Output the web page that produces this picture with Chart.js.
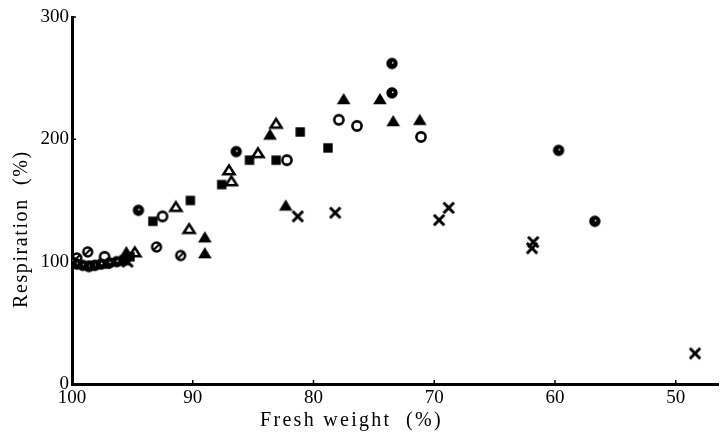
<!DOCTYPE html>
<html><head><meta charset="utf-8">
<script src="https://cdn.jsdelivr.net/npm/chart.js@4"></script>
<style>html,body{margin:0;padding:0;background:#fff}</style>
</head><body>
<canvas id="c" width="725" height="441" style="display:block;width:725px;height:441px"></canvas>
<script>
// ---- data ----
const xTicks = [100, 90, 80, 70, 60, 50];
const yTicks = [0, 100, 200, 300];
const xTitle = 'Fresh weight  (%)';
const yTitle = 'Respiration  (%)';

// filled circle with a small white dot
const dotCircleX = [100.0, 99.6, 99.1, 98.6, 98.1, 97.6, 96.9, 96.3, 94.5, 86.4, 73.5, 73.5, 59.7, 56.7];
const dotCircleY = [100, 98, 97, 96, 97, 98, 99, 100, 142, 190, 262, 238, 191, 133];
// circle with slash
const slashCircleX = [99.6, 98.7, 93.0, 91.0];
const slashCircleY = [103, 108, 112, 105];
// open circle
const openCircleX = [97.3, 92.5, 82.2, 77.9, 76.4, 71.1];
const openCircleY = [104, 137, 183, 216, 211, 202];
// filled triangle
const filledTriX = [96.0, 95.5, 89.0, 89.0, 83.6, 82.3, 77.5, 74.5, 73.4, 71.2];
const filledTriY = [101, 108, 120, 107, 204, 146, 233, 233, 215, 216];
// open triangle
const openTriX = [94.8, 91.4, 90.3, 87.0, 86.8, 84.6, 83.1];
const openTriY = [108, 145, 127, 175, 166, 189, 213];
// filled square
const squareX = [98.4, 97.2, 95.6, 95.2, 93.3, 90.2, 87.6, 85.3, 83.1, 81.1, 78.8];
const squareY = [97, 98, 101, 104, 133, 150, 163, 183, 183, 206, 193];
// cross
const crossX = [95.4, 81.3, 78.2, 69.6, 68.8, 61.8, 61.9, 48.4];
const crossY = [100, 137, 140, 134, 144, 116, 111, 25];

// ---- marker glyphs ----
function marker(kind) {
  const s = 16, c = document.createElement('canvas');
  c.width = s; c.height = s;
  const g = c.getContext('2d');
  g.translate(s / 2, s / 2);
  g.fillStyle = '#000'; g.strokeStyle = '#000';
  switch (kind) {
    case 'dot':
      g.beginPath(); g.arc(0, 0, 5.7, 0, 2 * Math.PI); g.fill();
      g.fillStyle = '#fff'; g.beginPath(); g.arc(0.7, -0.7, 0.9, 0, 2 * Math.PI); g.fill();
      break;
    case 'slash':
      g.lineWidth = 2.5; g.beginPath(); g.arc(0, 0, 4.4, 0, 2 * Math.PI); g.stroke();
      g.lineWidth = 2.2; g.beginPath(); g.moveTo(-3, 3); g.lineTo(3, -3); g.stroke();
      break;
    case 'open':
      g.lineWidth = 2.6; g.beginPath(); g.arc(0, 0, 4.6, 0, 2 * Math.PI); g.stroke();
      break;
    case 'tri':
      g.beginPath(); g.moveTo(0, -6); g.lineTo(6.8, 5.2); g.lineTo(-6.8, 5.2); g.closePath(); g.fill();
      break;
    case 'otri':
      g.lineWidth = 2.6; g.beginPath(); g.moveTo(0, -4.4); g.lineTo(5.5, 4.2); g.lineTo(-5.5, 4.2); g.closePath(); g.stroke();
      break;
    case 'sq':
      g.fillRect(-4.7, -4.7, 9.4, 9.4);
      break;
    case 'x':
      g.lineWidth = 3; g.lineCap = 'butt';
      g.beginPath(); g.moveTo(-5.2, -5.2); g.lineTo(5.2, 5.2); g.moveTo(5.2, -5.2); g.lineTo(-5.2, 5.2); g.stroke();
      break;
  }
  return c;
}

const series = [
  { label: 'dotted circle', xs: dotCircleX, ys: dotCircleY, kind: 'dot' },
  { label: 'slashed circle', xs: slashCircleX, ys: slashCircleY, kind: 'slash' },
  { label: 'open circle', xs: openCircleX, ys: openCircleY, kind: 'open' },
  { label: 'filled triangle', xs: filledTriX, ys: filledTriY, kind: 'tri' },
  { label: 'open triangle', xs: openTriX, ys: openTriY, kind: 'otri' },
  { label: 'filled square', xs: squareX, ys: squareY, kind: 'sq' },
  { label: 'cross', xs: crossX, ys: crossY, kind: 'x' }
];

const FONT = '"Liberation Serif", "Times New Roman", serif';

const axisExtras = {
  id: 'axisExtras',
  afterDraw(chart) {
    const ctx = chart.ctx, xs = chart.scales.x, ys = chart.scales.y, a = chart.chartArea;
    ctx.save();
    ctx.strokeStyle = '#000'; ctx.lineWidth = 1.5;
    ctx.beginPath();
    xTicks.forEach(v => { const p = xs.getPixelForValue(v); ctx.moveTo(p, a.bottom); ctx.lineTo(p, a.bottom - 4); });
    yTicks.forEach(v => { const p = ys.getPixelForValue(v); ctx.moveTo(a.left, p); ctx.lineTo(a.left + 4, p); });
    ctx.stroke();
    ctx.fillStyle = '#000';
    ctx.font = '20px ' + FONT;
    ctx.textAlign = 'left'; ctx.textBaseline = 'alphabetic';
    ctx.letterSpacing = '2.3px';
    ctx.fillText(xTitle, 260, 426);
    ctx.letterSpacing = '1.6px';
    ctx.translate(27, 308); ctx.rotate(-Math.PI / 2);
    ctx.fillText(yTitle, 0, 0);
    ctx.restore();
  }
};

new Chart(document.getElementById('c'), {
  type: 'scatter',
  data: {
    datasets: series.map(s => ({
      label: s.label,
      data: s.xs.map((x, i) => ({ x: x, y: s.ys[i] })),
      pointStyle: marker(s.kind),
      pointRadius: 6,
      pointHoverRadius: 6,
      showLine: false
    }))
  },
  options: {
    responsive: false,
    animation: false,
    layout: { padding: { top: 17, right: 4, left: 0, bottom: 0 } },
    plugins: { legend: { display: false }, tooltip: { enabled: false }, title: { display: false } },
    scales: {
      x: {
        type: 'linear', reverse: true, min: 46.5, max: 100,
        afterBuildTicks: s => { s.ticks = xTicks.map(v => ({ value: v })); },
        afterFit: s => { s.height = 57; },
        grid: { display: false, drawTicks: false },
        border: { display: true, color: '#000', width: 3 },
        ticks: { color: '#000', font: { family: FONT, size: 19 }, padding: 3, maxRotation: 0, autoSkip: false },
        title: { display: false }
      },
      y: {
        type: 'linear', min: 0, max: 300,
        afterBuildTicks: s => { s.ticks = yTicks.map(v => ({ value: v })); },
        afterFit: s => { s.width = 72; },
        grid: { display: false, drawTicks: false },
        border: { display: true, color: '#000', width: 3 },
        ticks: { color: '#000', font: { family: FONT, size: 19 }, padding: 3, autoSkip: false },
        title: { display: false }
      }
    }
  },
  plugins: [axisExtras]
});
</script>
</body></html>
